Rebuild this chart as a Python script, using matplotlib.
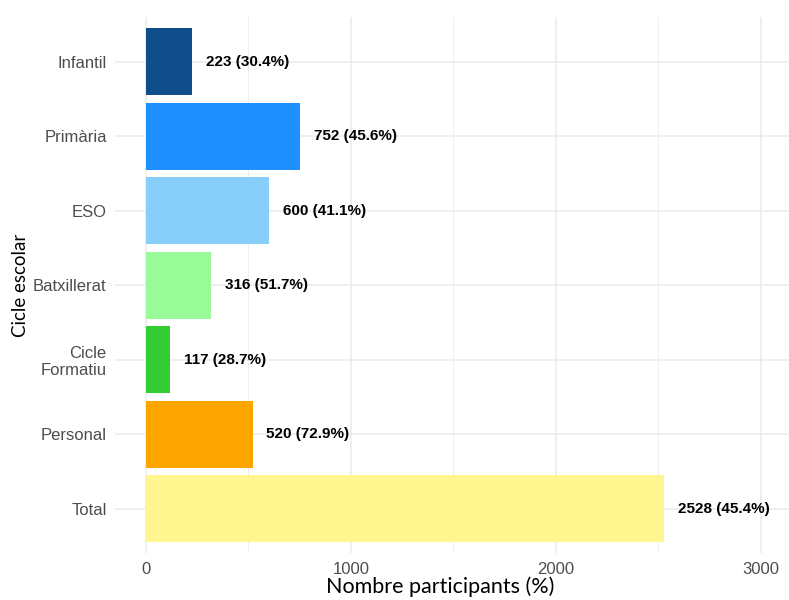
import matplotlib
matplotlib.use('Agg')
import matplotlib.pyplot as plt
from matplotlib.ticker import MultipleLocator

plt.rcParams['font.family'] = ['Liberation Sans', 'DejaVu Sans']

# Data
cicles = ['Infantil', 'Primària', 'ESO', 'Batxillerat', 'Cicle\nFormatiu', 'Personal', 'Total']
participants = [223, 752, 600, 316, 117, 520, 2528]
percentatges = [30.4, 45.6, 41.1, 51.7, 28.7, 72.9, 45.4]
colors = ['#104E8B', '#1E90FF', '#87CEFA', '#98FB98', '#32CD32', '#FFA500', '#FFF68F']

fig = plt.figure(figsize=(7.89, 6), dpi=100)
ax = fig.add_axes([0.1458, 0.078, 0.8542, 0.8937])

pos = list(range(len(cicles)))
ax.barh(pos, participants, height=0.9, color=colors, zorder=2)

for p, n, pct in zip(pos, participants, percentatges):
    ax.annotate(f'{n} ({pct}%)', xy=(n, p), xytext=(10, 0), textcoords='offset points',
                ha='left', va='center', fontsize=11, fontweight='bold', color='black')

ax.set_ylim(len(cicles) - 0.4, -0.6)
ax.set_xlim(-151, 3137)
ax.set_yticks(pos)
ax.set_yticklabels(cicles)
ax.xaxis.set_major_locator(MultipleLocator(1000))
ax.xaxis.set_minor_locator(MultipleLocator(500))

ax.grid(True, which='major', color='#EBEBEB', linewidth=1.1, zorder=0)
ax.grid(True, which='minor', axis='x', color='#EBEBEB', linewidth=0.6, zorder=0)
ax.set_axisbelow(True)
for s in ax.spines.values():
    s.set_visible(False)
ax.tick_params(which='both', length=0)
ax.tick_params(axis='both', labelsize=12, labelcolor='#4D4D4D', pad=6)

ax.set_xlabel('Nombre participants (%)', fontsize=15.5, family='Lato')
ax.set_ylabel('Cicle escolar', fontsize=13.5, family='Lato', labelpad=3)
ax.xaxis.set_label_coords(0.482, -0.043)

fig.savefig('out.png', dpi=100)
